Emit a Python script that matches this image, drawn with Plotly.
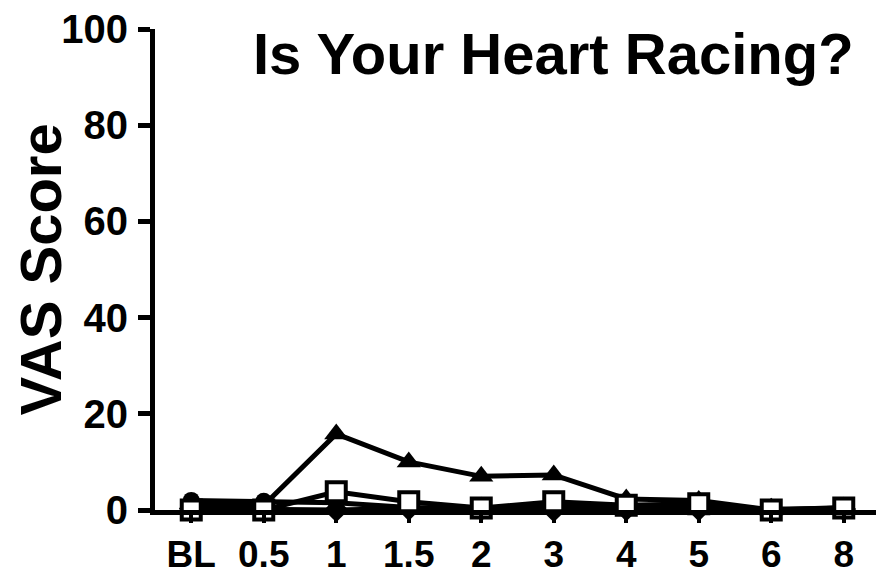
import plotly.graph_objects as go

categories = ["BL", "0.5", "1", "1.5", "2", "3", "4", "5", "6", "8"]
circle_vals = [2.0, 1.8, 1.5, 0.5, 0.3, 0.8, 0.5, 0.5, 0.0, 0.3]
diamond_vals = [0.3, 0.2, 0.0, 0.3, 0.2, 0.0, 0.2, 0.2, 0.0, 0.2]
triangle_vals = [1.0, 1.0, 15.8, 10.0, 7.0, 7.3, 2.3, 2.0, 0.0, 0.5]
square_vals = [0.0, 0.0, 3.8, 1.7, 0.4, 1.7, 1.0, 1.3, 0.0, 0.4]
y_ticks = [0, 20, 40, 60, 80, 100]

FONT = "Liberation Sans, Arial, sans-serif"

fig = go.Figure()

def add(vals, symbol, size, fill):
    fig.add_trace(go.Scatter(
        x=categories, y=vals, mode="lines+markers",
        line=dict(color="black", width=5),
        marker=dict(symbol=symbol, size=size, color=fill,
                    line=dict(color="black", width=4 if fill == "white" else 0)),
        cliponaxis=False, showlegend=False))

add(diamond_vals, "diamond", 19, "black")
add(circle_vals, "circle", 17, "black")
add(triangle_vals, "triangle-up", 21, "black")
add(square_vals, "square", 19, "white")

fig.update_layout(
    width=884, height=581,
    margin=dict(l=147, r=12, t=21, b=79),
    paper_bgcolor="white", plot_bgcolor="white",
    font=dict(family=FONT, color="black"),
    xaxis=dict(type="category", range=[-0.5, 9.5], showgrid=False, zeroline=False,
               showline=True, linecolor="black", linewidth=5, automargin=False,
               ticks="outside", ticklen=8, tickwidth=4, tickcolor="black",
               ticklabeloverflow="allow",
               tickfont=dict(size=37, family=FONT, weight="bold"), ticklabelstandoff=0),
    yaxis=dict(range=[0, 100], tickvals=y_ticks, showgrid=False, zeroline=False,
               showline=True, linecolor="black", linewidth=5, automargin=False,
               ticks="outside", ticklen=12, tickwidth=5, tickcolor="black",
               ticklabeloverflow="allow",
               tickfont=dict(size=40, family=FONT, weight="bold"), ticklabelstandoff=2,
               title=dict(text="VAS Score", font=dict(size=58, family=FONT, weight="bold"),
                          standoff=16)),
)

fig.add_annotation(text="Is Your Heart Racing?", xref="paper", yref="paper",
                   x=0.55, y=0.95, xanchor="center", yanchor="middle", showarrow=False,
                   font=dict(size=58, family=FONT, weight="bold", color="black"))

fig.write_html("out.html")
